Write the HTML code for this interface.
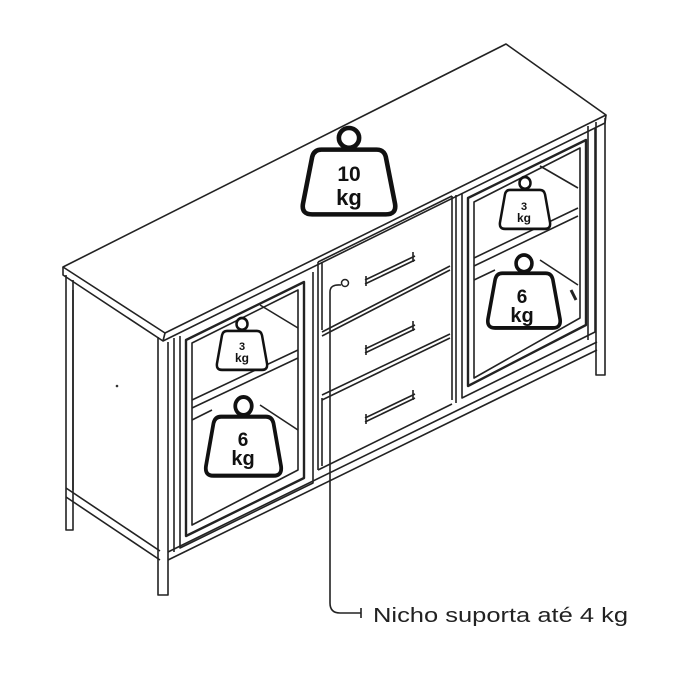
<!DOCTYPE html>
<html><head><style>html,body{margin:0;padding:0;background:#fff}svg{display:block}</style></head><body>
<svg width="700" height="700" viewBox="0 0 700 700" xmlns="http://www.w3.org/2000/svg" font-family="'Liberation Sans', sans-serif">
<defs>
<g id="wt">
<circle cx="50" cy="11" r="11" fill="#fff" stroke="#111" stroke-width="5"/>
<path d="M20,24 L80,24 Q88,24 90,32 L100,84 Q102,96 90,96 L10,96 Q-2,96 0,84 L10,32 Q12,24 20,24 Z" fill="#fff" stroke="#111" stroke-width="5"/>
</g>
</defs>
<g fill="none" stroke="#222" stroke-width="1.6" stroke-linejoin="round">
<path d="M63,267 L506,44 L606,115 L165,333 Z" fill="#fff"/>
<path d="M63,267 L63,275 L163,341 L605,123 L606,115"/>
<path d="M165,333 L163,341"/>
<path d="M66,275 L66,530 L73,530 L73,280"/>
<path d="M73,290 L73,490"/>
<path d="M66,488 L160,551 M66,497 L160,560"/>
<path d="M158,337 L158,595 L168,595 L168,342"/>
<path d="M168,552 L597,342 M168,560 L597,350"/>
<path d="M596,122 L596,375 L605,375 L605,118"/>
<path d="M588,126 L588,340"/>
<path d="M174,338 L174,552 M180,336 L180,548 L313,483 L313,272"/>
<path d="M186,340 L304,282 L304,478 L186,536 Z" stroke-width="2.4"/>
<path d="M192,343 L298,290 L298,470 L192,525 Z"/>
<path d="M192,400 L298,350 M192,408 L298,358"/>
<path d="M260,305 L298,328 M192,420 L212,410 M260,405 L298,430"/>
<path d="M318,262 L318,470 M452,196 L452,400"/>
<path d="M318,262 L452,196"/>
<path d="M322,332 L450,266 M322,336 L450,270"/>
<path d="M322,395 L450,334 M322,400 L450,338"/>
<path d="M322,330 L322,262 M322,398 L322,466"/>
<path d="M318,470 L452,404"/>
<path d="M365,280 L415,256 M365,284 L415,260 M366,276 L366,286 M413,252 L413,262"/>
<path d="M365,349 L415,325 M365,353 L415,329 M366,345 L366,355 M413,321 L413,331"/>
<path d="M365,418 L415,394 M365,422 L415,398 M366,414 L366,424 M413,390 L413,400"/>
<path d="M456,195 L456,403 M462,193 L462,398 L595,332 L595,128"/>
<path d="M468,198 L586,140 L586,325 L468,386 Z" stroke-width="2.4"/>
<path d="M474,202 L580,148 L580,318 L474,378 Z"/>
<path d="M474,258 L578,208 M474,266 L578,216"/>
<path d="M540,166 L578,188 M474,280 L495,270 M540,260 L578,285"/>
<path d="M571,290 L576,300" stroke-width="3"/>
</g>
<circle cx="117" cy="386" r="1.3" fill="#333"/>
<g font-weight="bold" fill="#111" text-anchor="middle">
<g transform="translate(303,128) scale(0.92,0.9)"><use href="#wt"/></g>
<text x="349" y="181" font-size="21">10</text>
<text x="349" y="205" font-size="22">kg</text>
<g transform="translate(217,318) scale(0.5,0.54)"><use href="#wt"/></g>
<text x="242" y="350" font-size="11">3</text>
<text x="242" y="362" font-size="12">kg</text>
<g transform="translate(206,397) scale(0.75,0.82)"><use href="#wt"/></g>
<text x="243" y="446" font-size="19">6</text>
<text x="243" y="465" font-size="20">kg</text>
<g transform="translate(500,177) scale(0.5,0.54)"><use href="#wt"/></g>
<text x="524" y="210" font-size="11">3</text>
<text x="524" y="222" font-size="12">kg</text>
<g transform="translate(488,255) scale(0.72,0.76)"><use href="#wt"/></g>
<text x="522" y="303" font-size="19">6</text>
<text x="522" y="322" font-size="20">kg</text>
</g>
<circle cx="345" cy="283" r="3.5" fill="#fff" stroke="#222" stroke-width="1.5"/>
<path d="M341,285 Q330,284 330,292 L330,603 Q330,613 340,613 L361,613 M361,608 L361,618" fill="none" stroke="#222" stroke-width="1.6"/>
<text x="373" y="622" font-size="20" fill="#222" textLength="255" lengthAdjust="spacingAndGlyphs">Nicho suporta até 4 kg</text>
</svg>
</body></html>
